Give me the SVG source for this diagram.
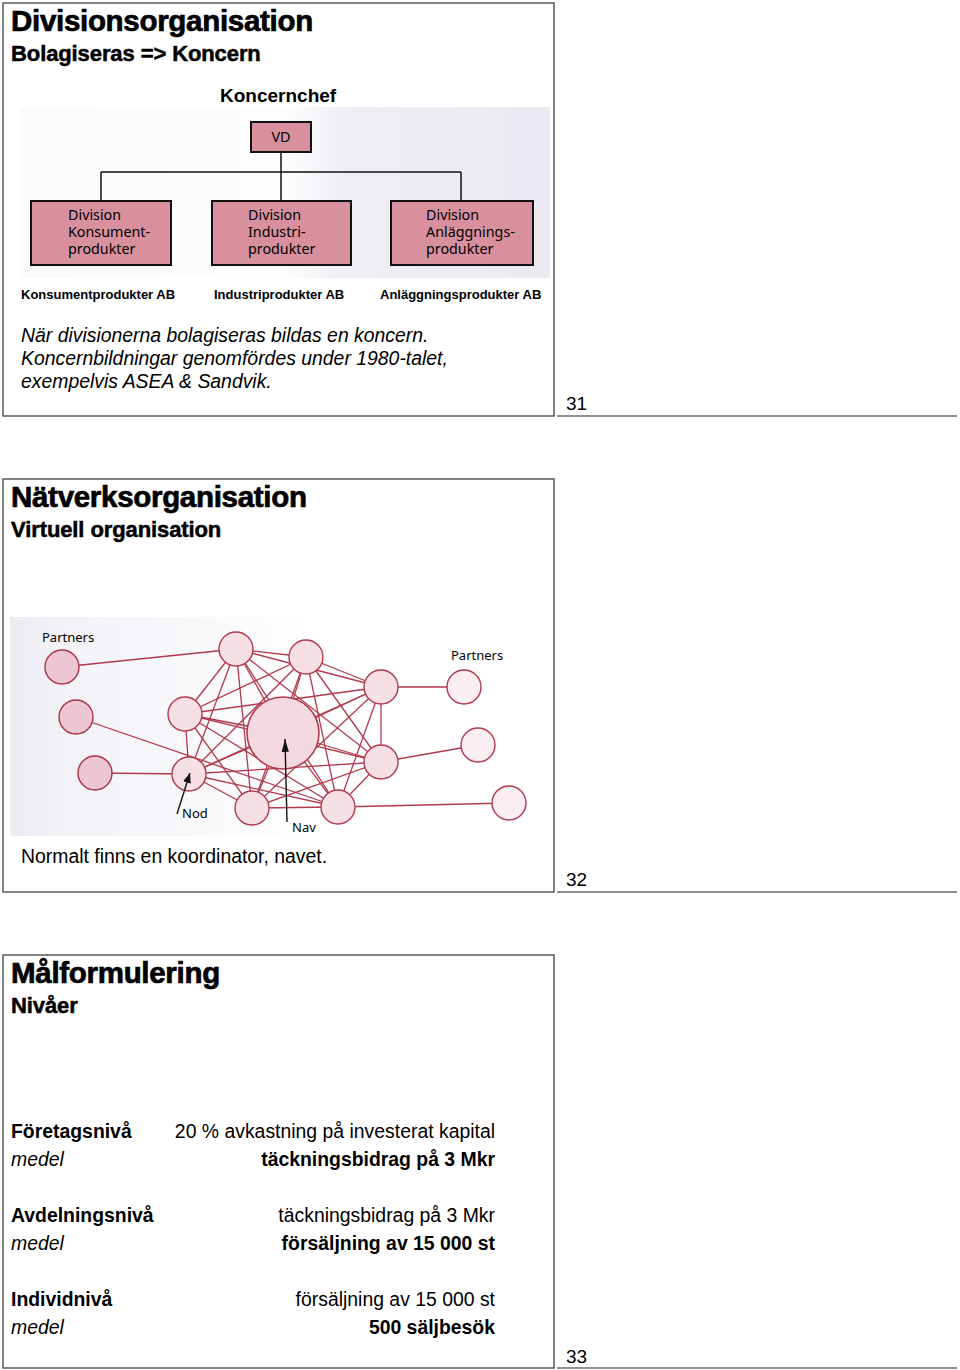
<svg xmlns="http://www.w3.org/2000/svg" width="960" height="1370" viewBox="0 0 960 1370">
<defs>
<style>
.frame{fill:#fff;stroke:#5a5a5a;stroke-width:1.5}
.rule{stroke:#6a6a6a;stroke-width:1.5}
.h1{font-family:"Liberation Sans",Arial,sans-serif;font-weight:bold;font-size:29.5px;fill:#000;stroke:#000;stroke-width:0.7;letter-spacing:-0.3px}
.h2{font-family:"Liberation Sans",Arial,sans-serif;font-weight:bold;font-size:22px;fill:#000;stroke:#000;stroke-width:0.5;letter-spacing:-0.1px}
.body{font-family:"Liberation Sans",Arial,sans-serif;font-size:19.4px;fill:#000}
.it{font-style:italic}
.b{font-weight:bold}
.num{font-family:"Liberation Sans",Arial,sans-serif;font-size:19px;fill:#000}
.lab{font-family:"Liberation Sans",Arial,sans-serif;font-weight:bold;font-size:13px;fill:#000}
.box{fill:#d8909f;stroke:#111;stroke-width:2}
.boxt{font-family:"Noto Sans","Open Sans",sans-serif;font-size:14.3px;fill:#000}
.org{stroke:#111;stroke-width:1.5;fill:none}
.edge{stroke:#b03a4c;stroke-width:1.3;fill:none}
.node{fill:#f7dfe6;stroke:#b03a4c;stroke-width:1.4}
.lp{fill:#ecc6d2;stroke:#a83446;stroke-width:1.4}
.rp{fill:#fbeef2;stroke:#b03a4c;stroke-width:1.4}
.hub{fill:#f5d9e1;stroke:#b03a4c;stroke-width:1.6}
.nt{font-family:"Noto Sans","Open Sans",sans-serif;font-size:13px;fill:#000}
.arr{stroke:#111;stroke-width:1.4;fill:none}
</style>
<linearGradient id="bg1" x1="0" y1="0" x2="1" y2="0">
<stop offset="0" stop-color="#fafafb"/>
<stop offset="0.5" stop-color="#fdfdfe"/>
<stop offset="0.6" stop-color="#f1eff5"/>
<stop offset="1" stop-color="#ebe9f1"/>
</linearGradient>
<linearGradient id="bg2" x1="0" y1="0" x2="1" y2="0">
<stop offset="0" stop-color="#ecebf2"/>
<stop offset="0.18" stop-color="#f3f2f7"/>
<stop offset="0.8" stop-color="#fbfbfd"/>
<stop offset="1" stop-color="#ffffff"/>
</linearGradient>
<marker id="ah" viewBox="0 0 10 10" refX="10" refY="5" markerWidth="10" markerHeight="10" markerUnits="userSpaceOnUse" orient="auto">
<path d="M0,1 L10,5 L0,9 Z" fill="#111"/>
</marker>
<marker id="ah2" viewBox="0 0 16 10" refX="16" refY="5" markerWidth="16" markerHeight="8" markerUnits="userSpaceOnUse" orient="auto">
<path d="M0,0.5 L16,5 L0,9.5 Z" fill="#111"/>
</marker>
</defs>
<rect width="960" height="1370" fill="#fff"/>

<!-- Slide 31 -->
<g id="slide31">
<rect class="frame" x="3" y="3" width="551" height="413"/>
<line class="rule" x1="557" y1="416" x2="957" y2="416"/>
<text class="num" x="566" y="410">31</text>
<text class="h1" x="11" y="31">Divisionsorganisation</text>
<text class="h2" x="11" y="61">Bolagiseras =&gt; Koncern</text>
<text class="body b" x="220" y="102" style="font-size:19px">Koncernchef</text>
<rect x="20" y="107" width="530" height="171" fill="url(#bg1)"/>
<g id="org-connectors">
<path class="org" d="M281,152 V172 M101,172 H461 M101,172 V201 M281,172 V201 M461,172 V201"/>
</g>
<g id="vd"><rect class="box" x="251" y="122" width="60" height="30"/><text class="boxt" x="281" y="142" text-anchor="middle">VD</text></g>
<g id="div-konsument"><rect class="box" x="31" y="201" width="140" height="64"/><text class="boxt" x="68" y="220">Division</text><text class="boxt" x="68" y="237">Konsument-</text><text class="boxt" x="68" y="254">produkter</text></g>
<g id="div-industri"><rect class="box" x="212" y="201" width="139" height="64"/><text class="boxt" x="248" y="220">Division</text><text class="boxt" x="248" y="237">Industri-</text><text class="boxt" x="248" y="254">produkter</text></g>
<g id="div-anlaggning"><rect class="box" x="391" y="201" width="142" height="64"/><text class="boxt" x="426" y="220">Division</text><text class="boxt" x="426" y="237">Anläggnings-</text><text class="boxt" x="426" y="254">produkter</text></g>
<text class="lab" x="21" y="299">Konsumentprodukter AB</text>
<text class="lab" x="214" y="299">Industriprodukter AB</text>
<text class="lab" x="380" y="299">Anläggningsprodukter AB</text>
<text class="body it" x="21" y="342">När divisionerna bolagiseras bildas en koncern.</text>
<text class="body it" x="21" y="365">Koncernbildningar genomfördes under 1980-talet,</text>
<text class="body it" x="21" y="388">exempelvis ASEA &amp; Sandvik.</text>
</g>

<!-- Slide 32 -->
<g id="slide32">
<rect class="frame" x="3" y="479" width="551" height="413"/>
<line class="rule" x1="557" y1="892" x2="957" y2="892"/>
<text class="num" x="566" y="886">32</text>
<text class="h1" x="11" y="507">Nätverksorganisation</text>
<text class="h2" x="11" y="537">Virtuell organisation</text>
<rect x="10" y="617" width="300" height="219" fill="url(#bg2)"/>
<g id="net-connectors">
<line class="edge" x1="62" y1="667" x2="236" y2="649"/>
<line class="edge" x1="76" y1="717" x2="338" y2="807"/>
<line class="edge" x1="95" y1="773" x2="189" y2="774"/>
<line class="edge" x1="381" y1="687" x2="464" y2="687"/>
<line class="edge" x1="381" y1="762" x2="478" y2="745"/>
<line class="edge" x1="338" y1="807" x2="509" y2="803"/>
<line class="edge" x1="236" y1="649" x2="306" y2="657"/>
<line class="edge" x1="236" y1="649" x2="185" y2="714"/>
<line class="edge" x1="236" y1="649" x2="381" y2="687"/>
<line class="edge" x1="236" y1="649" x2="189" y2="774"/>
<line class="edge" x1="236" y1="649" x2="381" y2="762"/>
<line class="edge" x1="236" y1="649" x2="252" y2="808"/>
<line class="edge" x1="236" y1="649" x2="338" y2="807"/>
<line class="edge" x1="306" y1="657" x2="185" y2="714"/>
<line class="edge" x1="306" y1="657" x2="381" y2="687"/>
<line class="edge" x1="306" y1="657" x2="189" y2="774"/>
<line class="edge" x1="306" y1="657" x2="381" y2="762"/>
<line class="edge" x1="306" y1="657" x2="252" y2="808"/>
<line class="edge" x1="306" y1="657" x2="338" y2="807"/>
<line class="edge" x1="185" y1="714" x2="381" y2="687"/>
<line class="edge" x1="185" y1="714" x2="189" y2="774"/>
<line class="edge" x1="185" y1="714" x2="381" y2="762"/>
<line class="edge" x1="185" y1="714" x2="252" y2="808"/>
<line class="edge" x1="185" y1="714" x2="338" y2="807"/>
<line class="edge" x1="381" y1="687" x2="189" y2="774"/>
<line class="edge" x1="381" y1="687" x2="381" y2="762"/>
<line class="edge" x1="381" y1="687" x2="252" y2="808"/>
<line class="edge" x1="381" y1="687" x2="338" y2="807"/>
<line class="edge" x1="189" y1="774" x2="381" y2="762"/>
<line class="edge" x1="189" y1="774" x2="252" y2="808"/>
<line class="edge" x1="189" y1="774" x2="338" y2="807"/>
<line class="edge" x1="381" y1="762" x2="252" y2="808"/>
<line class="edge" x1="381" y1="762" x2="338" y2="807"/>
<line class="edge" x1="252" y1="808" x2="338" y2="807"/>
<line class="edge" x1="283" y1="733" x2="236" y2="649"/>
<line class="edge" x1="283" y1="733" x2="306" y2="657"/>
<line class="edge" x1="283" y1="733" x2="185" y2="714"/>
<line class="edge" x1="283" y1="733" x2="381" y2="687"/>
<line class="edge" x1="283" y1="733" x2="189" y2="774"/>
<line class="edge" x1="283" y1="733" x2="381" y2="762"/>
<line class="edge" x1="283" y1="733" x2="252" y2="808"/>
<line class="edge" x1="283" y1="733" x2="338" y2="807"/>
</g>
<g id="hub"><circle class="hub" cx="283" cy="733" r="36"/></g>
<g id="nodeA"><circle class="node" cx="236" cy="649" r="17"/></g>
<g id="nodeB"><circle class="node" cx="306" cy="657" r="17"/></g>
<g id="nodeC"><circle class="node" cx="185" cy="714" r="17"/></g>
<g id="nodeD"><circle class="node" cx="381" cy="687" r="17"/></g>
<g id="nodeE"><circle class="node" cx="189" cy="774" r="17"/></g>
<g id="nodeF"><circle class="node" cx="381" cy="762" r="17"/></g>
<g id="nodeG"><circle class="node" cx="252" cy="808" r="17"/></g>
<g id="nodeH"><circle class="node" cx="338" cy="807" r="17"/></g>
<g id="partnerL1"><circle class="lp" cx="62" cy="667" r="17"/></g>
<g id="partnerL2"><circle class="lp" cx="76" cy="717" r="17"/></g>
<g id="partnerL3"><circle class="lp" cx="95" cy="773" r="17"/></g>
<g id="partnerR1"><circle class="rp" cx="464" cy="687" r="17"/></g>
<g id="partnerR2"><circle class="rp" cx="478" cy="745" r="17"/></g>
<g id="partnerR3"><circle class="rp" cx="509" cy="803" r="17"/></g>
<g id="pointers">
<line class="arr" x1="287" y1="822" x2="285" y2="739" marker-end="url(#ah2)"/>
<line class="arr" x1="177" y1="814" x2="190" y2="773" marker-end="url(#ah)"/>
</g>
<text class="nt" x="42" y="642">Partners</text>
<text class="nt" x="451" y="660">Partners</text>
<text class="nt" x="182" y="818">Nod</text>
<text class="nt" x="292" y="832">Nav</text>
<text class="body" x="21" y="863">Normalt finns en koordinator, navet.</text>
</g>

<!-- Slide 33 -->
<g id="slide33">
<rect class="frame" x="3" y="955" width="551" height="413"/>
<line class="rule" x1="557" y1="1368" x2="957" y2="1368"/>
<text class="num" x="566" y="1363">33</text>
<text class="h1" x="11" y="983">Målformulering</text>
<text class="h2" x="11" y="1013">Nivåer</text>
<text class="body b" x="11" y="1138">Företagsnivå</text>
<text class="body" x="495" y="1138" text-anchor="end">20 % avkastning på investerat kapital</text>
<text class="body it" x="11" y="1166">medel</text>
<text class="body b" x="495" y="1166" text-anchor="end">täckningsbidrag på 3 Mkr</text>
<text class="body b" x="11" y="1222">Avdelningsnivå</text>
<text class="body" x="495" y="1222" text-anchor="end">täckningsbidrag på 3 Mkr</text>
<text class="body it" x="11" y="1250">medel</text>
<text class="body b" x="495" y="1250" text-anchor="end">försäljning av 15 000 st</text>
<text class="body b" x="11" y="1306">Individnivå</text>
<text class="body" x="495" y="1306" text-anchor="end">försäljning av 15 000 st</text>
<text class="body it" x="11" y="1334">medel</text>
<text class="body b" x="495" y="1334" text-anchor="end">500 säljbesök</text>
</g>
</svg>
